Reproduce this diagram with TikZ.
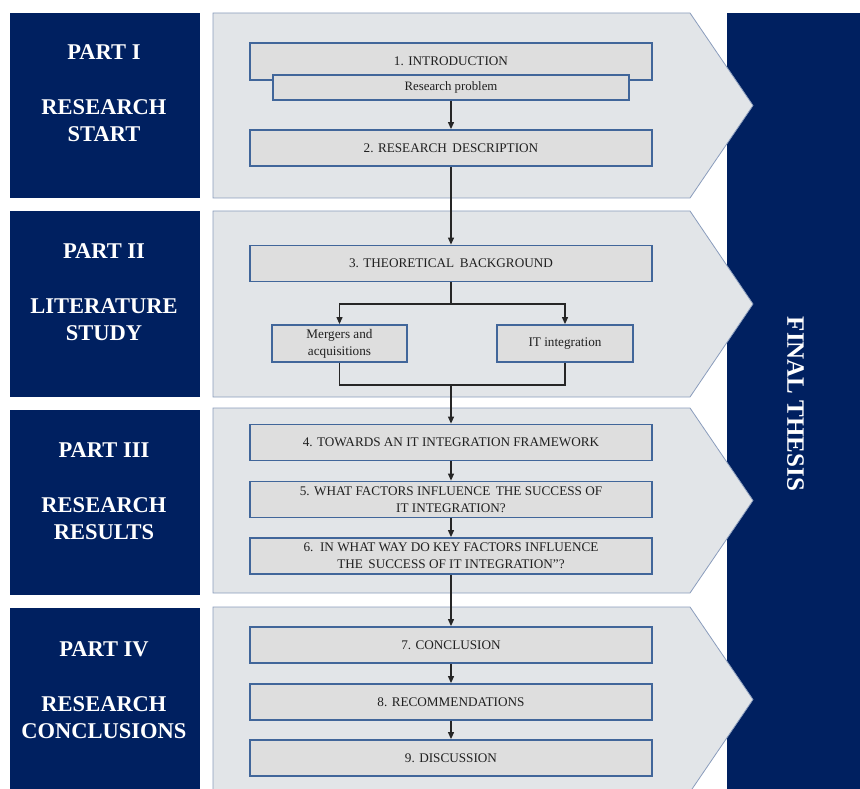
\documentclass[tikz,border=0pt]{standalone}
\usepackage{fontspec}
\setmainfont{Liberation Serif}
\usetikzlibrary{arrows.meta}
\definecolor{navy}{HTML}{002060}
\definecolor{chevfill}{HTML}{E2E5E8}
\definecolor{chevline}{HTML}{8A9CBC}
\definecolor{boxfill}{HTML}{DEDEDE}
\definecolor{boxline}{HTML}{41669A}
\definecolor{txt}{HTML}{202020}
\tikzset{
  partbox/.style={fill=navy, draw=none},
  parttext/.style={text=white, font=\fontsize{22.5}{27}\selectfont\bfseries, align=center, inner sep=0pt},
  chev/.style={fill=chevfill, draw=chevline, line width=0.8pt},
  stepbox/.style={draw=boxline, fill=boxfill, line width=1.8pt, minimum width=402pt, minimum height=36pt, inner sep=0pt, text=txt, font=\fontsize{13.2}{17}\selectfont, align=center},
  subbox/.style={draw=boxline, fill=boxfill, line width=1.8pt, inner sep=0pt, text=txt, font=\fontsize{13.2}{17}\selectfont, align=center},
  conn/.style={line width=1.1pt, draw=black!85},
  arr/.style={conn, -{Triangle[length=7pt,width=6pt]}}
}
\begin{document}
\begin{tikzpicture}[x=1pt,y=-1pt]
\useasboundingbox (0,0) rectangle (860,789);
% right panel
\fill[navy] (727,13) rectangle (860,789);
\node[rotate=-90, text=white, font=\fontsize{25}{28}\selectfont\bfseries, inner sep=0pt] (final) at (795.5,404) {FINAL THESIS};
% left part boxes
\fill[navy] (10,13) rectangle (200,198);
\fill[navy] (10,211) rectangle (200,397);
\fill[navy] (10,410) rectangle (200,595);
\fill[navy] (10,608) rectangle (200,789);
\node[parttext] (p1) at (104,93) {PART I\\[28pt]RESEARCH\\START};
\node[parttext] (p2) at (104,292) {PART II\\[28pt]LITERATURE\\STUDY};
\node[parttext] (p3) at (104,491) {PART III\\[28pt]RESEARCH\\RESULTS};
\node[parttext] (p4) at (104,690) {PART IV\\[28pt]RESEARCH\\CONCLUSIONS};
% chevrons
\path[chev] (213,13) -- (690,13) -- (753,105.5) -- (690,198) -- (213,198) -- cycle;
\path[chev] (213,211) -- (690,211) -- (753,304) -- (690,397) -- (213,397) -- cycle;
\path[chev] (213,408) -- (690,408) -- (753,500.5) -- (690,593) -- (213,593) -- cycle;
\path[chev] (213,607) -- (690,607) -- (753,699.5) -- (690,792) -- (213,792) -- cycle;
% boxes
\node[stepbox, minimum height=37pt] (b1) at (451,61.5) {1. INTRODUCTION};
\node[subbox, minimum width=356pt, minimum height=25pt] (rp) at (451,87.5) {\fontsize{12.8}{15}\selectfont Research problem};
\node[stepbox] (b2) at (451,148) {2. RESEARCH\, DESCRIPTION};
\node[stepbox] (b3) at (451,263.5) {3. THEORETICAL\, BACKGROUND};
\node[subbox, minimum width=135pt, minimum height=37pt] (ma) at (339.5,343.5) {Mergers and\\acquisitions};
\node[subbox, minimum width=136pt, minimum height=37pt] (it) at (565,343.5) {IT integration};
\node[stepbox] (b4) at (451,442.5) {4. TOWARDS AN IT INTEGRATION FRAMEWORK};
\node[stepbox] (b5) at (451,499.5) {5. WHAT FACTORS INFLUENCE\, THE SUCCESS OF\\IT INTEGRATION?};
\node[stepbox] (b6) at (451,556) {6.\, IN WHAT WAY DO KEY FACTORS INFLUENCE\\THE\, SUCCESS OF IT INTEGRATION”?};
\node[stepbox] (b7) at (451,645) {7. CONCLUSION};
\node[stepbox] (b8) at (451,702) {8. RECOMMENDATIONS};
\node[stepbox] (b9) at (451,758) {9. DISCUSSION};
% connectors
\coordinate (split) at (451,304);
\coordinate (join) at (451,385);
\draw[arr] (rp.south) -- (b2.north);
\draw[arr] (b2.south) -- (b3.north);
\draw[conn] (b3.south) -- (split);
\draw[arr] (split) -| (ma.north);
\draw[arr] (split) -| (it.north);
\draw[conn] (ma.south) |- (join);
\draw[conn] (it.south) |- (join);
\draw[arr] (join) -- (b4.north);
\draw[arr] (b4.south) -- (b5.north);
\draw[arr] (b5.south) -- (b6.north);
\draw[arr] (b6.south) -- (b7.north);
\draw[arr] (b7.south) -- (b8.north);
\draw[arr] (b8.south) -- (b9.north);
\end{tikzpicture}
\end{document}
